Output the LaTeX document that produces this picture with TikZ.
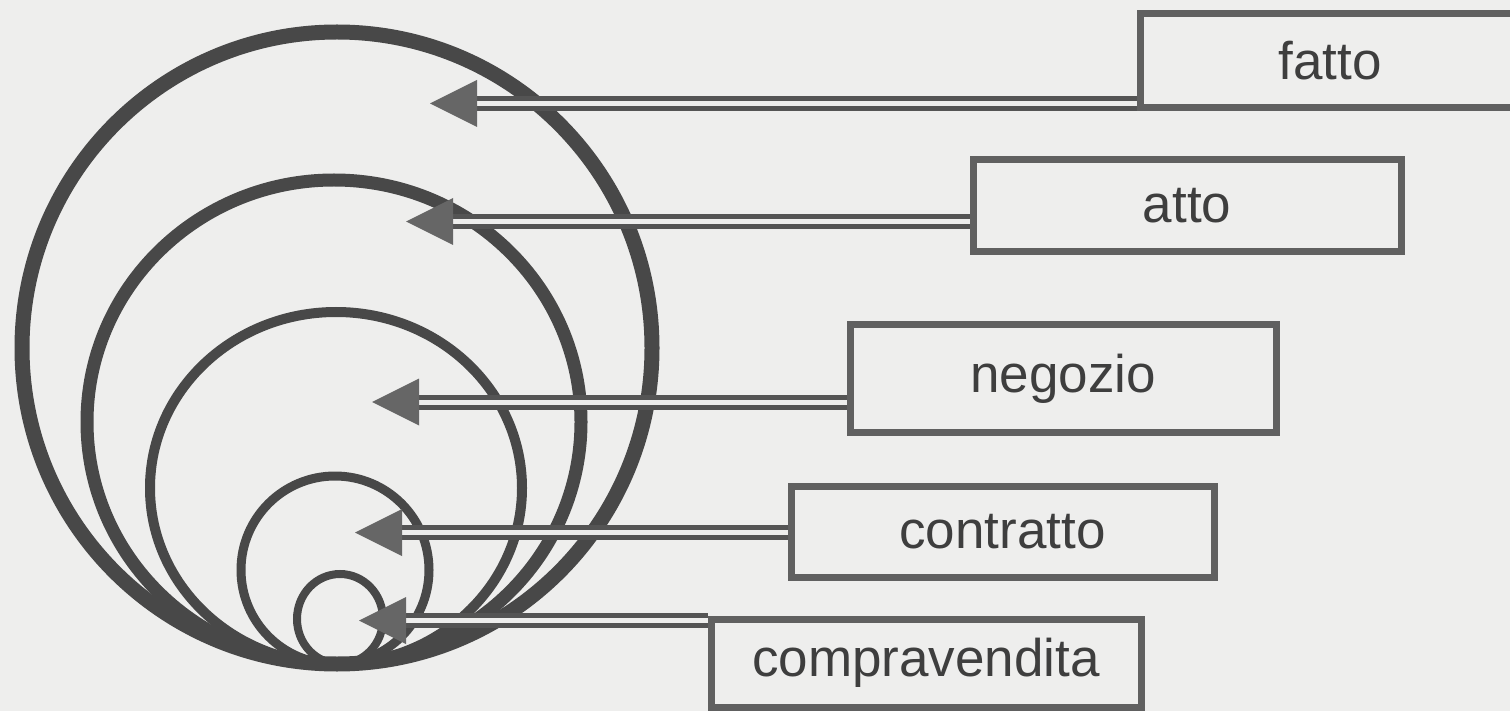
\documentclass[tikz,border=0pt]{standalone}
\usepackage{fontspec}
\setmainfont{Liberation Sans}
\usetikzlibrary{calc}
\definecolor{bgc}{RGB}{238,238,237}
\definecolor{circc}{RGB}{72,72,72}
\definecolor{boxc}{RGB}{96,96,96}
\definecolor{shaftc}{RGB}{84,84,84}
\definecolor{headc}{RGB}{102,102,102}
\definecolor{txtc}{RGB}{62,62,62}
\begin{document}
\begin{tikzpicture}[x=1pt,y=-1pt,
  ring/.style={draw=circc},
  labelbox/.style={draw=boxc, line width=7pt, inner sep=0pt, text=txtc,
    font=\fontsize{53}{60}\selectfont},
  shaft/.style={draw=shaftc, line width=5pt, double=bgc, double distance=5pt},
  head/.style={fill=headc}]
\fill[bgc] (0,0) rectangle (1510,711);
\useasboundingbox (0,0) rectangle (1510,711);
\clip (0,0) rectangle (1510,711);

% nested circles, all touching at the bottom
\draw[ring, line width=15pt] (337,348) ellipse [x radius=315pt, y radius=316pt];
\draw[ring, line width=13pt] (334,422) ellipse [x radius=247pt, y radius=242pt];
\draw[ring, line width=10pt] (336,488) ellipse [x radius=186pt, y radius=176pt];
\draw[ring, line width=9pt]  (335,570) ellipse [x radius=94pt, y radius=94pt];
\draw[ring, line width=8pt]  (340,619) ellipse [x radius=43pt, y radius=45pt];

% label boxes
\node[labelbox, minimum width=380pt, minimum height=94pt]   (fatto)   at (1330,60.5)   {fatto};
\node[labelbox, minimum width=428pt, minimum height=92pt]   (atto)    at (1187,205.5)  {atto};
\node[labelbox, minimum width=426pt, minimum height=107pt]  (negozio) at (1063,378.5)  {negozio};
\node[labelbox, minimum width=423pt, minimum height=91pt]   (contratto) at (1002.5,531.75) {contratto};
\node[labelbox, minimum width=430pt, minimum height=88pt]   (compra)  at (926,663)     {compravendita};

% arrow tips
\coordinate (tF) at (430,103.5);
\coordinate (tA) at (406,221.5);
\coordinate (tN) at (372,402);
\coordinate (tC) at (355,532.5);
\coordinate (tV) at (359,620.5);

% shafts
\foreach \t/\b in {tF/fatto, tA/atto, tN/negozio, tC/contratto, tV/compra}{
  \draw[shaft] ($(\t)+(42,0)$) -- (\t -| \b.west);
}
% heads
\foreach \t in {tF, tA, tN, tC, tV}{
  \fill[head] (\t) -- ++(47,-23.5) -- ++(0,47) -- cycle;
}
\end{tikzpicture}
\end{document}
